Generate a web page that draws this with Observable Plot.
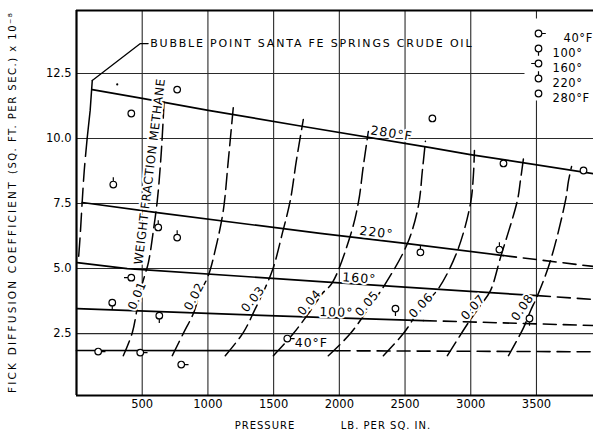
<!DOCTYPE html>
<html>
<head>
<meta charset="utf-8">
<script src="https://cdn.jsdelivr.net/npm/d3@7"></script>
<script src="https://cdn.jsdelivr.net/npm/@observablehq/plot@0.6"></script>
<style>
  body { margin: 0; background: #fff; }
  #chart svg { display: block; }
  #chart svg text { font-family: "DejaVu Sans", sans-serif; }
  g[aria-description="ylabel-a"] text { letter-spacing: 2.2px; }
  g[aria-description="ylabel-b"] text { letter-spacing: 1.5px; }
  g[aria-description="xlabel"] text { letter-spacing: 1px; }
  g[aria-description="bubble-label"] text { letter-spacing: 1.8px; }
  g[aria-description="iso-label"] text { letter-spacing: 1px; }
  g[aria-description="wf-label"] text { letter-spacing: 0.6px; }
  g[aria-description="wf-title"] text { letter-spacing: 0.5px; }
  g[aria-description="legend-text"] text { letter-spacing: 0.6px; }
</style>
</head>
<body>
<div id="chart"></div>
<script>
// ---------- axes ----------
const xTicks = [500, 1000, 1500, 2000, 2500, 3000, 3500];
const yTicks = [2.5, 5.0, 7.5, 10.0, 12.5];
const xDomain = [0, 3934];
const yDomain = [0.12, 14.92];

// ---------- isotherms [pressure, coefficient] ----------
const iso280 = [[120, 11.88], [500, 11.54], [1003, 11.08], [1726, 10.46], [2693, 9.65], [2997, 9.38], [3934, 8.65]];
const iso280DashFrom = Infinity;
const iso220 = [[44, 7.54], [614, 7.15], [1855, 6.35], [2518, 5.96], [3249, 5.5], [3934, 5.08]];
const iso220DashFrom = 3249;
const iso160 = [[5, 5.23], [386, 5.0], [1855, 4.5], [2997, 4.12], [3507, 3.96], [3934, 3.81]];
const iso160DashFrom = 3507;
const iso100 = [[5, 3.46], [1855, 3.12], [2639, 3.0], [3934, 2.81]];
const iso100DashFrom = 2639;
const iso40 = [[0, 1.85], [1983, 1.84], [3934, 1.8]];
const iso40DashFrom = 1983;

// bubble point curve
const bubble = [[120, 12.23], [104, 11.08], [81, 10.0], [59, 8.77], [43, 7.54], [28, 6.27], [13, 5.23]];
const bubbleDashBelow = 10.0;
const bubbleLeader = [[120, 12.23], [486, 13.65], [545, 13.65]];
const bubbleLabel = "BUBBLE POINT SANTA FE SPRINGS CRUDE OIL";
const bubbleLabelPos = [[561, 13.65]];
const bubbleDot = [[310, 12.08]];

// ---------- weight fraction methane curves ----------
const wf01 = [[356, 1.65], [425, 2.54], [463, 3.5], [501, 4.42], [547, 5.23], [585, 6.46], [615, 7.62], [638, 8.96], [653, 10.12], [668, 11.58]];
const wf02 = [[729, 1.65], [812, 2.5], [889, 3.27], [942, 4.08], [1003, 4.73], [1064, 5.89], [1117, 7.23], [1155, 9.15], [1193, 11.19]];
const wf03 = [[1132, 1.65], [1269, 2.54], [1361, 3.46], [1437, 4.27], [1498, 5.04], [1566, 6.35], [1627, 7.62], [1673, 9.15], [1726, 10.73]];
const wf04 = [[1498, 1.65], [1650, 2.5], [1780, 3.38], [1871, 4.04], [1947, 4.46], [2084, 6.27], [2145, 7.54], [2183, 8.96], [2221, 10.27]];
const wf05 = [[1916, 1.65], [2084, 2.5], [2221, 3.46], [2351, 4.42], [2518, 5.96], [2602, 7.42], [2632, 8.77], [2655, 9.89]];
const wf06 = [[2335, 1.65], [2487, 2.5], [2617, 3.46], [2754, 4.23], [2899, 5.69], [2998, 7.5], [3020, 8.58], [3028, 9.54]];
const wf07 = [[2822, 1.65], [2982, 2.92], [3074, 3.58], [3150, 4.15], [3226, 5.42], [3355, 7.62], [3378, 8.38], [3401, 9.23]];
const wf08 = [[3287, 1.65], [3402, 2.73], [3455, 3.38], [3508, 3.96], [3607, 5.31], [3721, 7.62], [3744, 8.38], [3767, 8.92]];
const wfCurves = [wf01, wf02, wf03, wf04, wf05, wf06, wf07, wf08];
const wfLabels = ["0.01", "0.02", "0.03", "0.04", "0.05", "0.06", "0.07", "0.08"];
const wfLabelX = [462, 896, 1343, 1772, 2211, 2622, 3018, 3394];
const wfLabelY = [3.96, 3.92, 3.82, 3.69, 3.65, 3.58, 3.51, 3.5];
const wfLabelAngle = [-68, -62, -51, -50, -49, -47, -48, -55];
const wfTitle = "WEIGHT FRACTION METHANE";
const wfTitlePos = [[558, 8.73]];

// ---------- isotherm labels ----------
const isoLabels = ["280°F", "220°", "160°", "100°", "40°F"];
const isoLabelX = [2397, 2282, 2152, 1977, 1787];
const isoLabelY = [10.19, 6.38, 4.62, 3.31, 2.12];
const isoLabelAngle = [9, 6.5, 4, 2, 0];

// ---------- measured points ----------
const pts40 = [[165, 1.81], [485, 1.77], [797, 1.31], [1604, 2.31]];
const pts100 = [[272, 3.69], [630, 3.19], [2427, 3.46], [3447, 3.08]];
const pts160 = [[417, 4.65]];
const pts220 = [[280, 8.23], [622, 6.58], [766, 6.19], [2617, 5.62], [3218, 5.73]];
const pts280 = [[417, 10.96], [766, 11.88], [2708, 10.77], [3249, 9.04], [3858, 8.77]];

const legendTemps = ["40°F", "100°", "160°", "220°", "280°F"];

// ---------- helpers ----------
const X = d => d[0], Y = d => d[1];
function markerSymbol(tx, ty) {
  return {
    draw(ctx, size) {
      const r = Math.sqrt(size / Math.PI);
      ctx.moveTo(r, 0);
      ctx.arc(0, 0, r, 0, 2 * Math.PI);
      if (tx || ty) {
        ctx.moveTo(tx * r, ty * r);
        ctx.lineTo(tx * (r + 4), ty * (r + 4));
      }
    }
  };
}
const sym40 = markerSymbol(1, 0);
const sym100 = markerSymbol(0, 1);
const sym160 = markerSymbol(-1, 0);
const sym220 = markerSymbol(0, -1);
const sym280 = markerSymbol(0, 0);
const legendSyms = [sym40, sym100, sym160, sym220, sym280];
const boxSymbol = { draw(ctx) { ctx.rect(-69, 8, 69, 82); } };

const solidPart = (pts, from) => pts.filter(p => p[0] <= from);
const dashedPart = (pts, from) => pts.filter(p => p[0] >= from);

const isoSets = [[iso280, iso280DashFrom], [iso220, iso220DashFrom], [iso160, iso160DashFrom], [iso100, iso100DashFrom], [iso40, iso40DashFrom]];

const lineStyle = { x: X, y: Y, stroke: "black", strokeWidth: 1.7 };
const marks = [];

// grid
marks.push(Plot.ruleX(xTicks, { stroke: "#2a2a2a", strokeWidth: 1.1 }));
marks.push(Plot.ruleY(yTicks, { stroke: "#2a2a2a", strokeWidth: 1.1 }));
// legend background
marks.push(Plot.dot([0], { frameAnchor: "top-right", symbol: boxSymbol, fill: "white", stroke: "none" }));

// isotherms
for (const [pts, from] of isoSets) {
  const s = solidPart(pts, from);
  if (s.length > 1) marks.push(Plot.line(s, { ...lineStyle }));
  const dsh = dashedPart(pts, from);
  if (dsh.length > 1) marks.push(Plot.line(dsh, { ...lineStyle, strokeWidth: 1.6, strokeDasharray: "13,7" }));
}
// bubble point curve
marks.push(Plot.line(bubble.filter(p => p[1] >= bubbleDashBelow), { ...lineStyle, strokeWidth: 1.5 }));
marks.push(Plot.line(bubble.filter(p => p[1] <= bubbleDashBelow), { ...lineStyle, strokeWidth: 1.5, strokeDasharray: "18,7", curve: "catmull-rom" }));
marks.push(Plot.line(bubbleLeader, { ...lineStyle, strokeWidth: 1.3 }));

// weight fraction curves
for (const c of wfCurves) {
  marks.push(Plot.line(c, { x: X, y: Y, curve: "catmull-rom", stroke: "black", strokeWidth: 1.5, strokeDasharray: "16,6" }));
}

// labels with white halo
const halo = { stroke: "white", strokeWidth: 4, fill: "black", paintOrder: "stroke" };
marks.push(Plot.text(wfLabels, {
  x: (d, i) => wfLabelX[i], y: (d, i) => wfLabelY[i], text: d => d,
  rotate: (d, i) => wfLabelAngle[i], fontSize: 12, ...halo, ariaDescription: "wf-label"
}));
marks.push(Plot.text(wfTitlePos, {
  x: X, y: Y, text: () => wfTitle, rotate: -83, fontSize: 12, ...halo, ariaDescription: "wf-title"
}));
marks.push(Plot.text(isoLabels, {
  x: (d, i) => isoLabelX[i], y: (d, i) => isoLabelY[i], text: d => d,
  rotate: (d, i) => isoLabelAngle[i], fontSize: 12.5, ...halo, ariaDescription: "iso-label"
}));
marks.push(Plot.text(bubbleLabelPos, {
  x: X, y: Y, text: () => bubbleLabel, textAnchor: "start", fontSize: 11, fill: "black", ariaDescription: "bubble-label"
}));

// data points
const dotStyle = { x: X, y: Y, r: 3.3, stroke: "black", strokeWidth: 1.2, fill: "white" };
marks.push(Plot.dot(pts40, { ...dotStyle, symbol: sym40 }));
marks.push(Plot.dot(pts100, { ...dotStyle, symbol: sym100 }));
marks.push(Plot.dot(pts160, { ...dotStyle, symbol: sym160 }));
marks.push(Plot.dot(pts220, { ...dotStyle, symbol: sym220 }));
marks.push(Plot.dot(pts280, { ...dotStyle, symbol: sym280 }));
marks.push(Plot.dot(bubbleDot, { x: X, y: Y, r: 1.1, fill: "black" }));

// legend
legendTemps.forEach((t, i) => {
  const dy = 23 + 15 * i;
  marks.push(Plot.dot([t], { frameAnchor: "top-right", dx: -55, dy, r: 3.3, symbol: legendSyms[i], stroke: "black", strokeWidth: 1.2, fill: "white" }));
  marks.push(Plot.text([t], { frameAnchor: "top-right", dx: i === 0 ? -30 : -41, dy, text: d => d, textAnchor: "start", fontSize: 11.5, fill: "black", ariaDescription: "legend-text" }));
});

// axis titles
marks.push(Plot.text(["PRESSURE"], { frameAnchor: "bottom", dx: -70, dy: 33, text: d => d, fontSize: 10, fill: "black", ariaDescription: "xlabel" }));
marks.push(Plot.text(["LB. PER SQ. IN."], { frameAnchor: "bottom", dx: 51, dy: 33, text: d => d, fontSize: 10, fill: "black", ariaDescription: "xlabel" }));
marks.push(Plot.text(["FICK DIFFUSION COEFFICIENT"], { frameAnchor: "left", dx: -64, dy: 190, rotate: -90, textAnchor: "start", text: d => d, fontSize: 10.5, fill: "black", ariaDescription: "ylabel-a" }));
marks.push(Plot.text(["(SQ. FT. PER SEC.) x 10⁻⁸"], { frameAnchor: "left", dx: -64, dy: -29, rotate: -90, textAnchor: "start", text: d => d, fontSize: 10, fill: "black", ariaDescription: "ylabel-b" }));

// frame (left, top, bottom)
marks.push(Plot.ruleX([xDomain[0]], { stroke: "black", strokeWidth: 2.2 }));
marks.push(Plot.ruleY(yDomain, { stroke: "black", strokeWidth: 2.2 }));

const chart = Plot.plot({
  width: 593,
  height: 437,
  marginLeft: 76,
  marginRight: 0,
  marginTop: 10,
  marginBottom: 42,
  style: { fontFamily: "DejaVu Sans", fontSize: "11.5px", background: "white", color: "black" },
  x: { domain: xDomain, ticks: xTicks, tickFormat: d => String(d), tickSize: 0, tickPadding: 4, label: null },
  y: { domain: yDomain, ticks: yTicks, tickFormat: d3.format(".1f"), tickSize: 0, tickPadding: 5, label: null },
  marks
});
document.getElementById("chart").appendChild(chart);
</script>
</body>
</html>
